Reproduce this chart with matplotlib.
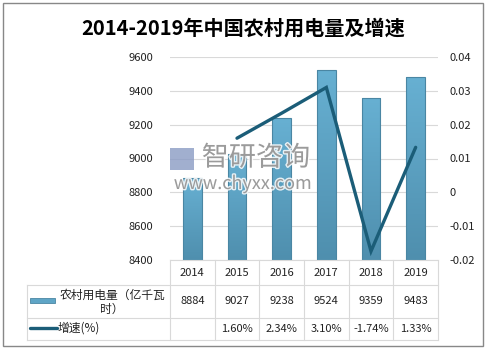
import numpy as np
import matplotlib.pyplot as plt
from matplotlib.lines import Line2D
from matplotlib.patches import Rectangle
import matplotlib.patheffects as pe

plt.rcParams['font.family'] = ['Noto Sans CJK SC', 'DejaVu Sans']

# data
years = ['2014', '2015', '2016', '2017', '2018', '2019']
usage = [8884, 9027, 9238, 9524, 9359, 9483]          # 亿千瓦时
growth = [None, 0.0160, 0.0234, 0.0310, -0.0174, 0.0133]
growth_labels = ['', '1.60%', '2.34%', '3.10%', '-1.74%', '1.33%']
left_ticks = [8400, 8600, 8800, 9000, 9200, 9400, 9600]
right_ticks = [-0.02, -0.01, 0, 0.01, 0.02, 0.03, 0.04]
right_tick_labels = ['-0.02', '-0.01', '0', '0.01', '0.02', '0.03', '0.04']

W, H = 487, 351
fig = plt.figure(figsize=(W / 100, H / 100), dpi=100)

def fx(px):
    return px / W

def fy(py):
    return 1 - py / H

bar_col = '#5fa5c6'
bar_edge = '#4a86a3'
line_col = '#1b5d78'
grid_col = '#d9d9d9'

# outer frame
fig.add_artist(Rectangle((fx(3), fy(346)), fx(480), 343 / H, transform=fig.transFigure,
                         fill=False, edgecolor='#888888', linewidth=1.0))

fig.text(0.5, fy(28), '2014-2019年中国农村用电量及增速', ha='center', va='center',
         fontsize=14.5, fontweight='bold', color='#000000')

ax_l, ax_r, ax_t, ax_b = 170, 438, 57, 260
ax = fig.add_axes([fx(ax_l), fy(ax_b), (ax_r - ax_l) / W, (ax_b - ax_t) / H])
x = np.arange(len(years))
bars = ax.bar(x, [u - 8400 for u in usage], bottom=8400, width=0.42, color=bar_col,
              edgecolor=bar_edge, linewidth=0.8, zorder=2)
# light-to-dark vertical shading inside each bar
grad = np.linspace(0, 1, 64).reshape(-1, 1)
from matplotlib.colors import LinearSegmentedColormap
cmap = LinearSegmentedColormap.from_list('b', ['#4f8fae', '#67b0d2'])
for b in bars:
    x0, y0 = b.get_x(), b.get_y()
    im = ax.imshow(grad, cmap=cmap, origin='lower', aspect='auto', zorder=2.1,
                   extent=[x0, x0 + b.get_width(), y0, y0 + b.get_height()])
    im.set_clip_path(b)
    b.set_facecolor('none')
    b.set_zorder(2.2)
ax.set_xlim(-0.5, len(years) - 0.5)
ax.set_ylim(8400, 9600)
ax.set_yticks(left_ticks)
ax.set_yticklabels([str(t) for t in left_ticks])
ax.grid(axis='y', color=grid_col, linewidth=0.8, zorder=0)
ax.set_axisbelow(True)
ax.set_xticks([])
for s in ax.spines.values():
    s.set_visible(False)
ax.tick_params(axis='y', length=0, pad=12, labelsize=8, labelcolor='#222222')

ax2 = ax.twinx()
gx = [i for i, g in enumerate(growth) if g is not None]
gy = [g for g in growth if g is not None]
ax2.plot(gx, gy, color=line_col, linewidth=2.4, solid_capstyle='round',
         solid_joinstyle='miter', zorder=3)
ax2.set_ylim(-0.02, 0.04)
ax2.set_yticks(right_ticks)
ax2.set_yticklabels(right_tick_labels)
ax2.tick_params(axis='y', length=0, pad=8, labelsize=8, labelcolor='#222222')
for s in ax2.spines.values():
    s.set_visible(False)

# watermark
wm = [pe.withStroke(linewidth=2, foreground='white')]
fig.text(fx(256), fy(158), '智研咨询', ha='center', va='center', fontsize=19.5,
         color='#8c8c8c', alpha=0.85, path_effects=wm, zorder=5)
fig.text(fx(243), fy(184), 'www.chyxx.com', ha='center', va='center', fontsize=13,
         color='#8c8c8c', alpha=0.85, path_effects=wm, zorder=5)
fig.add_artist(Rectangle((fx(170), fy(170)), fx(24), 22 / H, transform=fig.transFigure,
                         facecolor='#8a9bc4', alpha=0.8, edgecolor='none', zorder=5))

# data table
tbl_left = 27
row_y = [260, 285, 318, 340]
tc = '#d9d9d9'
col_w = (ax_r - ax_l) / len(years)
for k in range(len(years) + 1):
    xe = ax_l + k * col_w
    fig.add_artist(Line2D([fx(xe)] * 2, [fy(row_y[0]), fy(row_y[3])], color=tc, linewidth=0.8))
fig.add_artist(Line2D([fx(tbl_left)] * 2, [fy(row_y[1]), fy(row_y[3])], color=tc, linewidth=0.8))
fig.add_artist(Line2D([fx(ax_l), fx(ax_r)], [fy(row_y[0])] * 2, color=tc, linewidth=0.8))
for yy in row_y[1:]:
    fig.add_artist(Line2D([fx(tbl_left), fx(ax_r)], [fy(yy)] * 2, color=tc, linewidth=0.8))

for k, yr in enumerate(years):
    cx = ax_l + (k + 0.5) * col_w
    fig.text(fx(cx), fy(273), yr, ha='center', va='center', fontsize=8, color='#222222')
    fig.text(fx(cx), fy(301), str(usage[k]), ha='center', va='center', fontsize=8, color='#222222')
    fig.text(fx(cx), fy(329), growth_labels[k], ha='center', va='center', fontsize=8, color='#222222')

# row labels with legend keys
fig.add_artist(Rectangle((fx(30), fy(303)), fx(25), 5 / H, transform=fig.transFigure,
                         facecolor=bar_col, edgecolor=bar_edge, linewidth=0.6))
fig.text(fx(112), fy(295), '农村用电量（亿千瓦', ha='center', va='center', fontsize=8.5,
         fontweight='medium', color='#222222')
fig.text(fx(112), fy(309), '时）', ha='center', va='center', fontsize=8.5,
         fontweight='medium', color='#222222')
fig.add_artist(Line2D([fx(30), fx(57)], [fy(328)] * 2, color=line_col, linewidth=2.4,
                      solid_capstyle='round'))
fig.text(fx(58), fy(328), '增速(%)', ha='left', va='center', fontsize=8.5,
         fontweight='medium', color='#222222')

fig.savefig('out.png', dpi=100)
